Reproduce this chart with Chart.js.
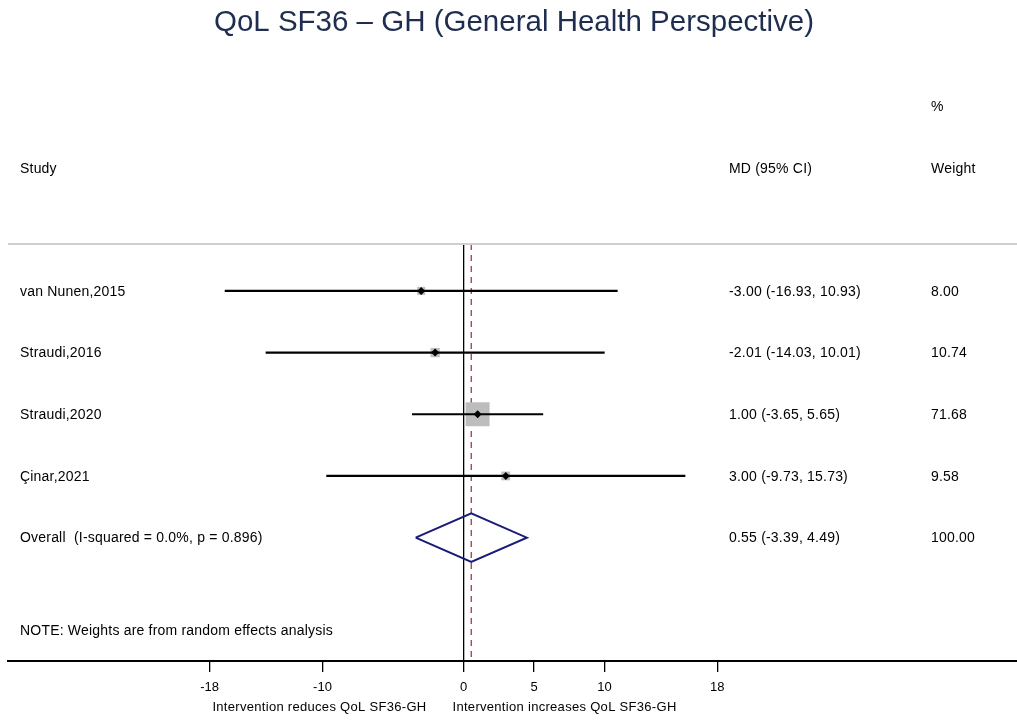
<!DOCTYPE html>
<html>
<head>
<meta charset="utf-8">
<script src="https://cdn.jsdelivr.net/npm/chart.js@4.4.0/dist/chart.umd.min.js"></script>
<style>
  html, body { margin: 0; padding: 0; background: #fff; }
</style>
</head>
<body>
<canvas id="forest" width="1017" height="720"></canvas>
<script>
// study rows
const studies = ["van Nunen,2015", "Straudi,2016", "Straudi,2020", "Çinar,2021"];
const md = [-3.00, -2.01, 1.00, 3.00];
const lower = [-16.93, -14.03, -3.65, -9.73];
const upper = [10.93, 10.01, 5.65, 15.73];
const weights = [8.00, 10.74, 71.68, 9.58];

// pooled estimate: [md, lower, upper], weight
const overallLabel = "Overall  (I-squared = 0.0%, p = 0.896)";
const overallEst = [0.55, -3.39, 4.49];
const overallWeight = [100.00];

const xTicks = [-18, -10, 0, 5, 10, 18];
const xTitles = ["Intervention reduces QoL SF36-GH", "Intervention increases QoL SF36-GH"];

const FONT = '"Liberation Sans", Arial, sans-serif';
const overallRow = studies.length + 1;
const yMin = 0.24, yMax = 7.0;

const datasets = [];

// CI whiskers
studies.forEach((s, i) => {
  datasets.push({
    type: "line",
    data: [{ x: lower[i], y: i + 1 }, { x: upper[i], y: i + 1 }],
    borderColor: "#000",
    borderWidth: 2.2,
    pointRadius: 0,
    order: 2
  });
});

// weight boxes (area ~ weight)
datasets.push({
  type: "scatter",
  data: md.map((v, i) => ({ x: v, y: i + 1 })),
  pointStyle: "rect",
  pointRadius: weights.map(w => (2.83 * Math.sqrt(w)) / Math.SQRT2),
  backgroundColor: "#bdbdbd",
  borderWidth: 0,
  order: 3
});

// point estimates
datasets.push({
  type: "scatter",
  data: md.map((v, i) => ({ x: v, y: i + 1 })),
  pointStyle: "rectRot",
  pointRadius: 4,
  backgroundColor: "#000",
  borderColor: "#000",
  borderWidth: 0,
  order: 1
});

// pooled diamond
const dh = 0.395;
datasets.push({
  type: "line",
  data: [
    { x: overallEst[1], y: overallRow },
    { x: overallEst[0], y: overallRow - dh },
    { x: overallEst[2], y: overallRow },
    { x: overallEst[0], y: overallRow + dh },
    { x: overallEst[1], y: overallRow }
  ],
  borderColor: "#1a1a78",
  borderWidth: 2,
  pointRadius: 0,
  fill: false,
  tension: 0,
  borderJoinStyle: "miter",
  order: 1
});

// dashed line at pooled estimate
datasets.push({
  type: "line",
  data: [{ x: overallEst[0], y: yMin }, { x: overallEst[0], y: yMax }],
  borderColor: "#a23a44",
  borderWidth: 1.3,
  borderDash: [6, 5],
  pointRadius: 0,
  order: 4
});

const textPlugin = {
  id: "forestText",
  afterDraw(chart) {
    const ctx = chart.ctx;
    const area = chart.chartArea;
    const xs = chart.scales.x;
    const ys = chart.scales.y;
    ctx.save();

    // top rule
    ctx.strokeStyle = "#cfcfcf";
    ctx.lineWidth = 2;
    ctx.beginPath();
    ctx.moveTo(area.left, area.top);
    ctx.lineTo(area.right, area.top);
    ctx.stroke();

    // title
    ctx.fillStyle = "#1f2d4f";
    ctx.font = "29.5px " + FONT;
    ctx.textAlign = "center";
    ctx.textBaseline = "middle";
    ctx.fillText("QoL SF36 – GH (General Health Perspective)", 514, 23);

    ctx.fillStyle = "#000";
    ctx.font = "14px " + FONT;
    ctx.letterSpacing = "0.2px";
    ctx.textAlign = "left";
    ctx.fillText("%", 931, 107);
    ctx.fillText("Study", 20, 169);
    ctx.fillText("MD (95% CI)", 729, 169);
    ctx.fillText("Weight", 931, 169);

    studies.forEach((s, i) => {
      const y = ys.getPixelForValue(i + 1) + 1;
      ctx.fillText(s, 20, y);
      ctx.fillText(md[i].toFixed(2) + " (" + lower[i].toFixed(2) + ", " + upper[i].toFixed(2) + ")", 729, y);
      ctx.fillText(weights[i].toFixed(2), 931, y);
    });
    const yo = ys.getPixelForValue(overallRow) + 1;
    ctx.fillText(overallLabel, 20, yo);
    ctx.fillText(overallEst[0].toFixed(2) + " (" + overallEst[1].toFixed(2) + ", " + overallEst[2].toFixed(2) + ")", 729, yo);
    ctx.fillText(overallWeight[0].toFixed(2), 931, yo);

    ctx.fillText("NOTE: Weights are from random effects analysis", 20, 631);

    // axis side labels
    const x0 = xs.getPixelForValue(0);
    ctx.font = "13px " + FONT;
    ctx.letterSpacing = "0.3px";
    ctx.textAlign = "right";
    ctx.fillText(xTitles[0], x0 - 37, 707);
    ctx.textAlign = "left";
    ctx.fillText(xTitles[1], x0 - 11, 707);
    ctx.restore();
  }
};

new Chart(document.getElementById("forest"), {
  type: "scatter",
  data: { datasets },
  options: {
    responsive: false,
    animation: false,
    layout: { autoPadding: false, padding: { top: 244, left: 8, right: 0, bottom: 0 } },
    plugins: {
      legend: { display: false },
      tooltip: { enabled: false },
      title: { display: false }
    },
    scales: {
      x: {
        type: "linear",
        min: -32.3,
        max: 39.25,
        afterBuildTicks: s => { s.ticks = xTicks.map(v => ({ value: v })); },
        afterFit: s => { s.height = 59; },
        ticks: {
          color: "#000",
          font: { family: FONT, size: 13 },
          padding: 8,
          autoSkip: false,
          maxRotation: 0,
          callback: v => String(v)
        },
        grid: {
          color: c => (c.tick && c.tick.value === 0 ? "#000" : "rgba(0,0,0,0)"),
          lineWidth: 1.3,
          tickColor: "#000",
          tickLength: 11,
          drawOnChartArea: true
        },
        border: { display: true, color: "#000", width: 2 }
      },
      y: {
        type: "linear",
        reverse: true,
        min: yMin,
        max: yMax,
        display: false
      }
    }
  },
  plugins: [textPlugin]
});
</script>
</body>
</html>
